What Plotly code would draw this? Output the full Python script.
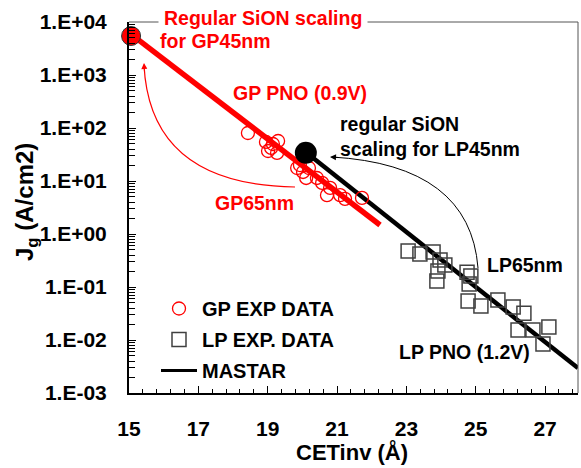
import plotly.graph_objects as go

# ---------------- data ----------------
gp_x = [18.43, 18.95, 19.15, 19.30, 19.10, 19.01, 19.27, 19.85, 19.93, 20.02,
        20.19, 20.11, 20.42, 20.57, 20.80, 20.71, 21.09, 21.23, 21.72]
gp_y = [80.5, 54.5, 49.9, 56.9, 42.0, 36.8, 33.8, 17.6, 20.0, 14.8,
        17.6, 11.4, 11.4, 9.2, 7.4, 5.4, 5.4, 4.6, 4.8]

lp_x = [23.05, 23.39, 23.77, 23.97, 24.11, 23.91, 23.88, 24.75, 24.86, 24.81,
        24.78, 25.15, 25.64, 26.08, 26.39, 26.22, 26.65, 27.11, 26.94]
lp_y = [0.477, 0.42, 0.457, 0.323, 0.26, 0.20, 0.13, 0.19, 0.161, 0.114,
        0.0545, 0.0438, 0.0569, 0.042, 0.032, 0.0155, 0.0155, 0.0176, 0.0084]

gp_mastar_x = [15.15, 22.24]
gp_mastar_y = [5300, 1.48]
lp_mastar_x = [20.13, 27.95]
lp_mastar_y = [33.7, 0.00295]

gp45_x = [15.06]
gp45_y = [5450]
lp45_x = [20.1]
lp45_y = [34.0]

y_tickvals = [1e-3, 1e-2, 1e-1, 1e0, 1e1, 1e2, 1e3, 1e4]
y_ticktext = ["1.E-03", "1.E-02", "1.E-01", "1.E+00", "1.E+01", "1.E+02", "1.E+03", "1.E+04"]
x_tickvals = [15, 17, 19, 21, 23, 25, 27]

# ---------------- layout helpers ----------------
W, H = 581, 468
L, R, T, B = 129, 3, 22, 75
PW, PH = W - L - R, H - T - B
FONT = "Liberation Sans, Arial, sans-serif"
RED = "#FF0000"


def P(px, py):
    return (px - L) / PW, (H - B - py) / PH


fig = go.Figure()

fig.add_trace(go.Scatter(x=gp_mastar_x, y=gp_mastar_y, mode="lines",
                         line=dict(color=RED, width=5.5), showlegend=False))
fig.add_trace(go.Scatter(x=lp_mastar_x, y=lp_mastar_y, mode="lines",
                         line=dict(color="black", width=4.5), showlegend=False))
fig.add_trace(go.Scatter(x=gp_x, y=gp_y, mode="markers", name="GP EXP DATA",
                         legendgroup="a", legendrank=1,
                         marker=dict(symbol="circle-open", size=13, color=RED,
                                     line=dict(width=1.3, color=RED))))
fig.add_trace(go.Scatter(x=lp_x, y=lp_y, mode="markers", name="LP EXP. DATA",
                         legendgroup="b", legendrank=2,
                         marker=dict(symbol="square-open", size=14, color="#404040",
                                     line=dict(width=1.5, color="#404040"))))
fig.add_trace(go.Scatter(x=[None], y=[None], mode="lines", name="MASTAR",
                         legendgroup="c", legendrank=3,
                         line=dict(color="black", width=3)))
fig.add_trace(go.Scatter(x=gp45_x, y=gp45_y, mode="markers", showlegend=False,
                         cliponaxis=False,
                         marker=dict(symbol="circle", size=19, color=RED,
                                     line=dict(width=1, color="#333333"))))
fig.add_trace(go.Scatter(x=lp45_x, y=lp45_y, mode="markers", showlegend=False,
                         cliponaxis=False,
                         marker=dict(symbol="circle", size=22, color="black")))

annotations = []


def txt(text, px, py, color, size=19.5, xanchor="left"):
    x, y = P(px, py)
    annotations.append(dict(text=text, x=x, y=y, xref="paper", yref="paper",
                            xanchor=xanchor, yanchor="middle", align="left",
                            showarrow=False,
                            font=dict(family=FONT, size=size, color=color, weight="bold")))


txt("Regular SiON scaling", 158, 18, RED)
annotations[-1].update(bgcolor="white", borderpad=5)
txt("for GP45nm", 158, 41, RED)
txt("GP PNO (0.9V)", 300, 93, RED, xanchor="center")
txt("GP65nm", 254, 203, RED, xanchor="center")
txt("regular SiON<br>scaling for LP45nm", 338, 136, "black")
txt("LP65nm", 485, 265, "black")
txt("LP PNO (1.2V)", 397, 352, "black")

# axis titles
x, y = P(26, 202)
annotations.append(dict(text="J<sub>g</sub> (A/cm2)", x=x, y=y, xref="paper", yref="paper",
                        textangle=-90, showarrow=False, xanchor="center", yanchor="middle",
                        font=dict(family=FONT, size=24, color="black", weight="bold")))
x, y = P(352, 452)
annotations.append(dict(text="CETinv (Å)", x=x, y=y, xref="paper", yref="paper",
                        showarrow=False, xanchor="center", yanchor="middle",
                        font=dict(family=FONT, size=22, color="black", weight="bold")))

# arrowheads
for (hx, hy, ax, ay, col) in [(144, 63, 0.5, 10, RED), (330, 157, 10, 0.6, "black")]:
    x, y = P(hx, hy)
    annotations.append(dict(text="", x=x, y=y, xref="paper", yref="paper",
                            showarrow=True, ax=ax, ay=ay, arrowhead=2, arrowsize=1.2,
                            arrowwidth=1, arrowcolor=col))


def qpath(p0, c, p1):
    a, b, d = P(*p0), P(*c), P(*p1)
    return f"M {a[0]},{a[1]} Q {b[0]},{b[1]} {d[0]},{d[1]}"


shapes = [
    dict(type="path", xref="paper", yref="paper", path=qpath((295, 187), (150, 185), (144, 65)),
         line=dict(color=RED, width=1.2)),
    dict(type="path", xref="paper", yref="paper", path=qpath((478, 268), (470, 165), (332, 157)),
         line=dict(color="black", width=1)),
    dict(type="line", xref="paper", yref="paper", x0=0, x1=1, y0=1, y1=1,
         line=dict(color="#555555", width=1)),
    dict(type="line", xref="paper", yref="paper", x0=1, x1=1, y0=0, y1=1,
         line=dict(color="#555555", width=1)),
]

# minor y ticks
minor_y = [m * 10 ** e for e in range(-3, 4) for m in range(2, 10)]

fig.update_layout(
    width=W, height=H,
    margin=dict(l=L, r=R, t=T, b=B, pad=0),
    paper_bgcolor="white", plot_bgcolor="white",
    font=dict(family=FONT, color="black"),
    annotations=annotations, shapes=shapes,
    legend=dict(x=P(156, 0)[0], y=P(0, 289)[1], xanchor="left", yanchor="top",
                bgcolor="rgba(0,0,0,0)", tracegroupgap=2, traceorder="grouped",
                itemwidth=36,
                font=dict(family=FONT, size=20, color="black", weight="bold")),
    xaxis=dict(type="linear", range=[15, 27.95], tickmode="array", tickvals=x_tickvals,
               ticks="inside", ticklen=7, tickwidth=1, tickcolor="black",
               showline=True, linecolor="black", linewidth=2, showgrid=False, zeroline=False,
               ticklabelstandoff=16,
               tickfont=dict(family=FONT, size=21, color="black", weight="bold"),
               minor=dict(ticks="inside", ticklen=4, dtick=0.4, tick0=15,
                          tickcolor="black", showgrid=False)),
    yaxis=dict(type="log", range=[-3, 4], tickmode="array", tickvals=y_tickvals,
               ticktext=y_ticktext,
               ticks="inside", ticklen=7, tickwidth=1, tickcolor="black",
               showline=True, linecolor="black", linewidth=2, showgrid=False, zeroline=False,
               ticklabelstandoff=16,
               tickfont=dict(family=FONT, size=21, color="black", weight="bold"),
               minor=dict(ticks="inside", ticklen=6, tickvals=minor_y,
                          tickcolor="black", showgrid=False)),
)

fig.write_html("out.html")
